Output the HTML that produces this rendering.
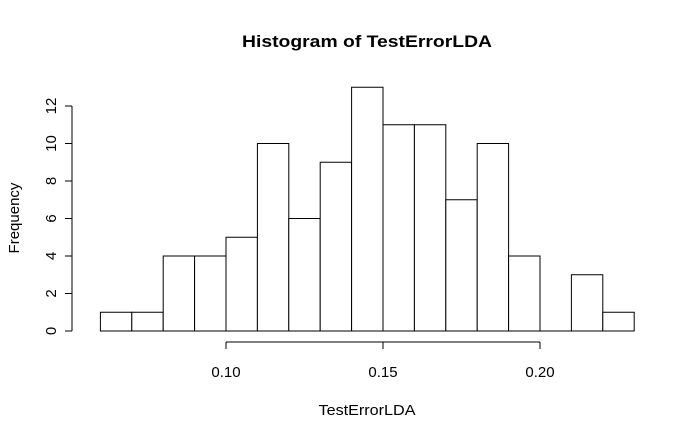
<!DOCTYPE html>
<html><head><meta charset="utf-8"><style>
html,body{margin:0;padding:0;background:#fff;}
svg text{font-family:"Liberation Sans",sans-serif;fill:#000;}
</style></head><body>
<svg id="chart" width="696" height="439" viewBox="0 0 696 439">
<text x="367" y="47" text-anchor="middle" font-size="17" font-weight="bold" textLength="250" lengthAdjust="spacingAndGlyphs">Histogram of TestErrorLDA</text>
<text x="367" y="415" text-anchor="middle" font-size="15" textLength="97" lengthAdjust="spacingAndGlyphs">TestErrorLDA</text>
<text transform="translate(19,218) rotate(-90)" text-anchor="middle" font-size="15">Frequency</text>
<g id="bars"></g>
<g id="xaxis"></g>
<g id="yaxis"></g>
</svg>
<script>
const binStarts = [0.06,0.07,0.08,0.09,0.10,0.11,0.12,0.13,0.14,0.15,0.16,0.17,0.18,0.19,0.20,0.21,0.22];
const counts = [1,1,4,4,5,10,6,9,13,11,11,7,10,4,0,3,1];
const binWidth = 0.01;
const xTicks = [0.10,0.15,0.20];
const xTickLabels = ["0.10","0.15","0.20"];
const yTicks = [0,2,4,6,8,10,12];

const ns = "http://www.w3.org/2000/svg";
function xs(v){ return 226 + (v - 0.10) * 3140; }
function ys(v){ return 331 - v * 18.75; }
function mk(tag, attrs, parent){
  const e = document.createElementNS(ns, tag);
  for (const k in attrs) e.setAttribute(k, attrs[k]);
  parent.appendChild(e);
  return e;
}
const bars = document.getElementById('bars');
counts.forEach((c, i) => {
  const x0 = xs(binStarts[i]), x1 = xs(binStarts[i] + binWidth);
  let r;
  if (c > 0) {
    r = mk('rect', {x: x0, y: ys(c), width: x1 - x0, height: ys(0) - ys(c), fill: '#fff', stroke: '#000', 'stroke-width': 1}, bars);
  } else {
    r = mk('line', {x1: x0, x2: x1, y1: ys(0), y2: ys(0), stroke: '#000', 'stroke-width': 1}, bars);
  }
  
  
});
const xa = document.getElementById('xaxis');
mk('line', {x1: xs(xTicks[0]), x2: xs(xTicks[xTicks.length-1]), y1: 342, y2: 342, stroke: '#000'}, xa);
xTicks.forEach((t, i) => {
  mk('line', {x1: xs(t), x2: xs(t), y1: 342, y2: 349, stroke: '#000'}, xa);
  const tx = mk('text', {x: xs(t), y: 377, 'text-anchor': 'middle', 'font-size': 15}, xa);
  tx.textContent = xTickLabels[i];
  
  
});
const ya = document.getElementById('yaxis');
mk('line', {x1: 72, x2: 72, y1: ys(yTicks[0]), y2: ys(yTicks[yTicks.length-1]), stroke: '#000'}, ya);
yTicks.forEach(t => {
  mk('line', {x1: 65, x2: 72, y1: ys(t), y2: ys(t), stroke: '#000'}, ya);
  const tx = mk('text', {transform: 'translate(56,' + ys(t) + ') rotate(-90)', 'text-anchor': 'middle', 'font-size': 15}, ya);
  tx.textContent = String(t);
  
  
});
</script>
</body></html>
